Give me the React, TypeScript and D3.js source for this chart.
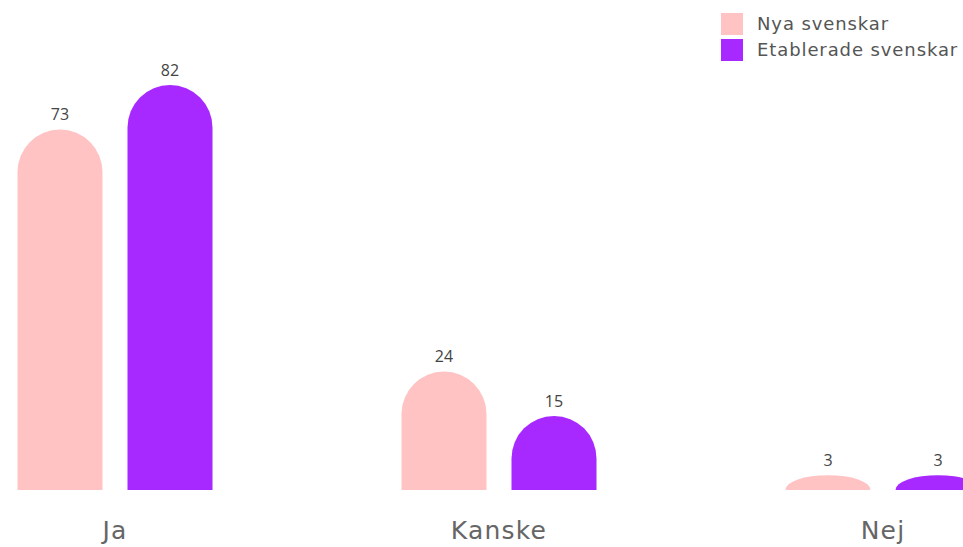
import React from 'react';
import * as d3 from 'd3';

const categories = ['Ja', 'Kanske', 'Nej'];
const seriesNames = ['Nya svenskar', 'Etablerade svenskar'];
const nyaSvenskar = [73, 24, 3];
const etableradeSvenskar = [82, 15, 3];
const colors = ['#FFC3C3', '#A729FF'];

const width = 963;
const height = 547;
const baseline = 490;

function barPath(x: number, w: number, y0: number, y1: number) {
  // rounded top: half-ellipse, flattens out for short bars
  const h = y0 - y1;
  const rx = w / 2;
  const ry = Math.min(rx, h);
  return `M${x},${y0} L${x},${y1 + ry} A${rx},${ry} 0 0 1 ${x + w},${y1 + ry} L${x + w},${y0} Z`;
}

export default function App() {
  const x = d3.scaleBand().domain(categories).range([-77, 1075]).padding(0);
  const y = d3.scaleLinear().domain([0, 82]).range([baseline, 85]);
  const barW = 85;
  const offsets = [-55, 55];
  const series = [nyaSvenskar, etableradeSvenskar];

  return (
    <svg width={width} height={height} style={{ position: 'absolute', left: 0, top: 0 }}>
      <rect width={width} height={height} fill="#fff" />
      {series.map((vals, si) => (
        <g key={si}>
          {vals.map((v, i) => {
            const cx = (x(categories[i]) as number) + x.bandwidth() / 2 + offsets[si];
            return (
              <g key={i}>
                <path d={barPath(cx - barW / 2, barW, baseline, y(v))} fill={colors[si]} />
                <text x={cx} y={y(v) - 9} textAnchor="middle" fontFamily="Open Sans" fontSize={16} fill="#444">
                  {v}
                </text>
              </g>
            );
          })}
        </g>
      ))}
      {categories.map((c) => (
        <text key={c} x={(x(c) as number) + x.bandwidth() / 2} y={539} textAnchor="middle" fontFamily="DejaVu Sans" fontSize={25} letterSpacing={1.2} fill="#666">
          {c}
        </text>
      ))}
      {seriesNames.map((s, i) => (
        <g key={s} transform={`translate(721, ${13 + i * 26})`}>
          <rect width={22} height={22} fill={colors[i]} />
          <text x={36} y={17} fontFamily="DejaVu Sans" fontSize={18} letterSpacing={0.9} fill="#555">
            {s}
          </text>
        </g>
      ))}
    </svg>
  );
}
